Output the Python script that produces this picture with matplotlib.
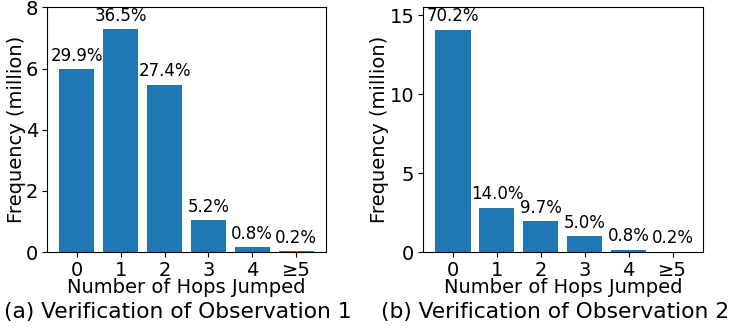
import matplotlib
matplotlib.use("Agg")
import matplotlib.pyplot as plt

hops = ["0", "1", "2", "3", "4", "≥5"]

obs1_freq = [5.98, 7.28, 5.47, 1.04, 0.16, 0.04]
obs1_pct = ["29.9%", "36.5%", "27.4%", "5.2%", "0.8%", "0.2%"]

obs2_freq = [14.1, 2.81, 1.96, 1.0, 0.16, 0.04]
obs2_pct = ["70.2%", "14.0%", "9.7%", "5.0%", "0.8%", "0.2%"]

captions = ["(a) Verification of Observation 1", "(b) Verification of Observation 2"]
caption_x = [178 / 730, 555 / 730]

fig = plt.figure(figsize=(7.3, 3.31), dpi=100)
axes = [fig.add_axes([0.064, 0.238, 0.383, 0.74]),
        fig.add_axes([0.579, 0.238, 0.384, 0.74])]

for ax, freq, pct, cap, cx in zip(axes, [obs1_freq, obs2_freq], [obs1_pct, obs2_pct], captions, caption_x):
    x = range(len(hops))
    bars = ax.bar(x, freq, color="#1f77b4", width=0.8)
    for b, p in zip(bars, pct):
        ax.text(b.get_x() + b.get_width() / 2, b.get_height() + max(freq) * 0.02, p,
                ha="center", va="bottom", fontsize=12)
    ax.set_xticks(list(x))
    ax.set_xticklabels(hops)
    ax.set_ylim(0, max(freq) * 1.1)
    ax.tick_params(labelsize=14, pad=2.5)
    ax.set_xlabel("Number of Hops Jumped", fontsize=14, labelpad=-1)
    ax.set_ylabel("Frequency (million)", fontsize=14, labelpad=0)
    fig.text(cx, 0.088, cap, ha="center", va="top", fontsize=15.7)

axes[0].set_yticks([0, 2, 4, 6, 8])
axes[0].set_ylim(0, 8)
axes[1].set_yticks([0, 5, 10, 15])

fig.savefig("out.png", dpi=100)
